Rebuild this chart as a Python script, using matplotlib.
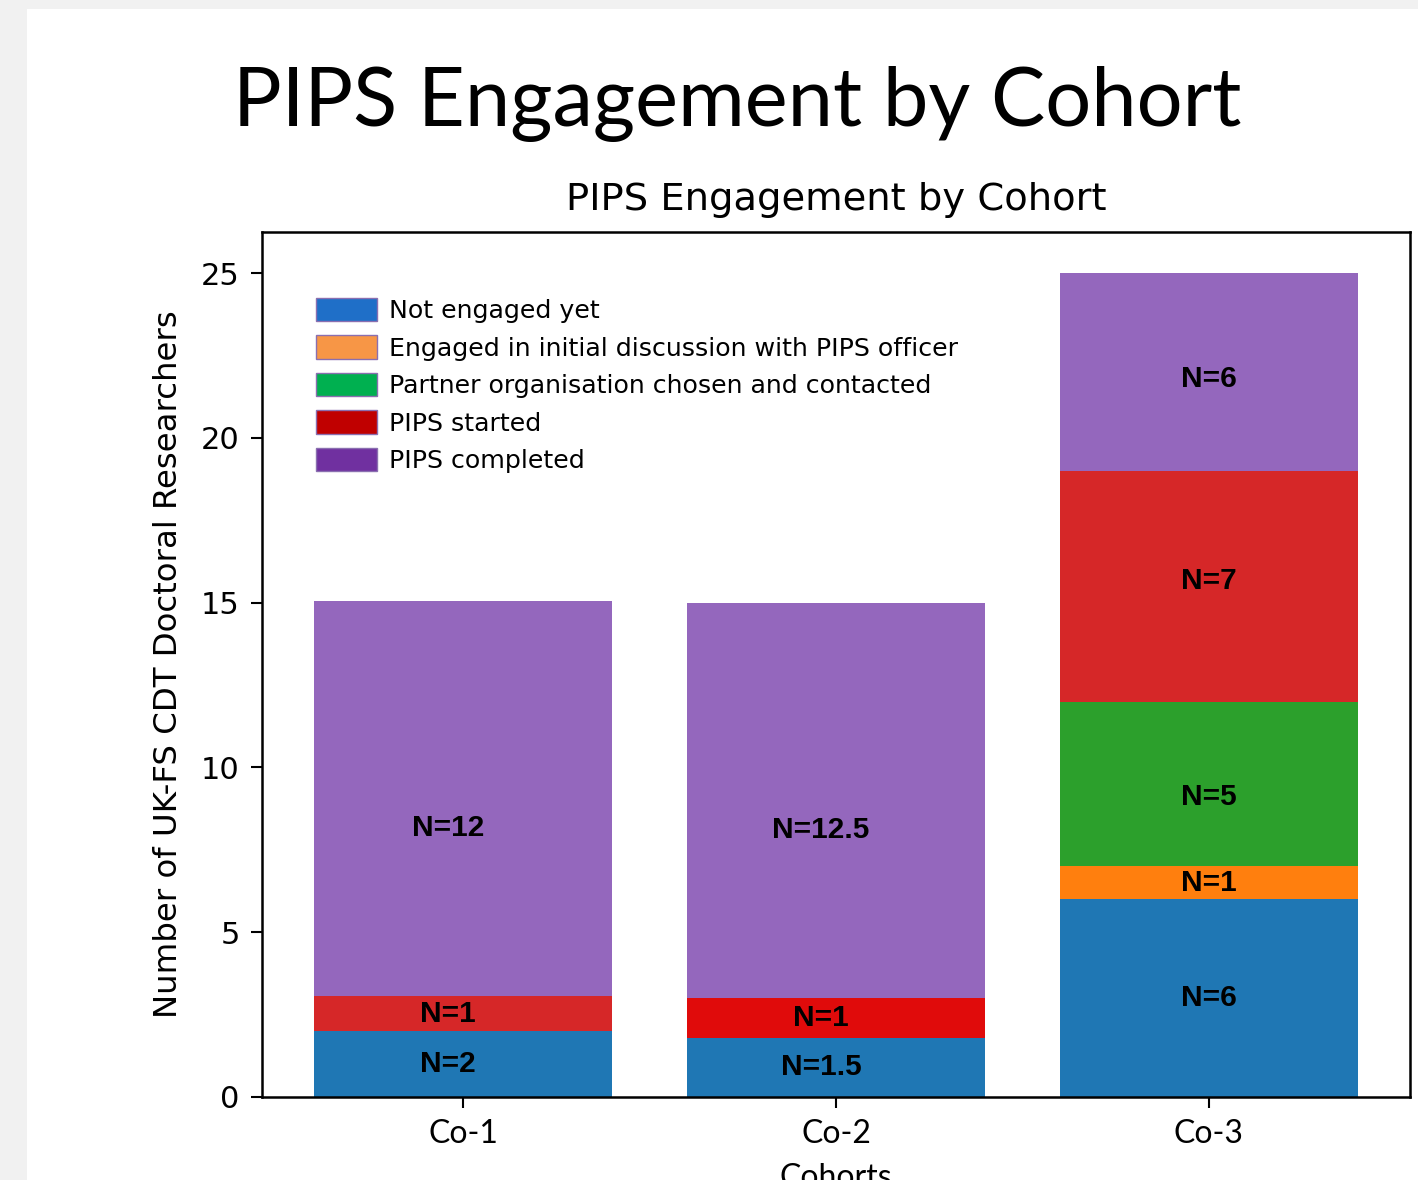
import matplotlib
matplotlib.use('Agg')
import matplotlib.pyplot as plt
from matplotlib.patches import Patch, Rectangle

# data
cohorts = ['Co-1', 'Co-2', 'Co-3']
stages = ['Not engaged yet', 'Engaged in initial discussion with PIPS officer',
          'Partner organisation chosen and contacted', 'PIPS started', 'PIPS completed']
not_engaged = [2, 1.8, 6]
initial_disc = [0, 0, 1]
partner = [0, 0, 5]
started = [1.05, 1.2, 7]
completed = [12, 12, 6]

# labels as written on the chart
labels_not_engaged = ['N=2', 'N=1.5', 'N=6']
labels_initial = ['', '', 'N=1']
labels_partner = ['', '', 'N=5']
labels_started = ['N=1', 'N=1', 'N=7']
labels_completed = ['N=12', 'N=12.5', 'N=6']

bar_colors = ['#1f77b4', '#ff7f0e', '#2ca02c', '#d62728', '#9467bd']
legend_colors = ['#1f6fc8', '#f79646', '#00b050', '#c00000', '#7030a0']

fig = plt.figure(figsize=(14.18, 11.8), dpi=100)
fig.patch.set_facecolor('#f1f1f1')
fig.patches.append(Rectangle((27 / 1418, 0), 1 - 27 / 1418, (1180 - 9) / 1180,
                             transform=fig.transFigure, facecolor='white', edgecolor='none', zorder=-5))

fig.text(0.520, 1 - 126 / 1180, 'PIPS Engagement by Cohort', family='Lato', fontsize=58.5,
         ha='center', va='baseline', color='black')

ax = fig.add_axes([262 / 1418, 83 / 1180, (1410 - 262) / 1418, (1097 - 232) / 1180])
ax.set_facecolor('white')

x = range(len(cohorts))
series = [not_engaged, initial_disc, partner, started, completed]
series_labels = [labels_not_engaged, labels_initial, labels_partner, labels_started, labels_completed]
bottom = [0, 0, 0]
for i, vals in enumerate(series):
    cols = [bar_colors[i]] * 3
    if i == 3:
        cols[1] = '#e00b0b'
    bars = ax.bar(x, vals, width=0.8, bottom=bottom, color=cols)
    for j, rect in enumerate(bars):
        txt = series_labels[i][j]
        if txt:
            yc = bottom[j] + vals[j] / 2.0
            if i == 4:
                yc -= 0.9 if j < 2 else 0.2
            if i == 2:
                yc -= 0.4
            if i == 3 and j == 2:
                yc += 0.15
            ax.text(rect.get_x() + rect.get_width() / 2.0 - (0.04 if j < 2 else 0.0), yc, txt,
                    ha='center', va='center', family='Liberation Sans', fontweight='bold',
                    fontsize=21.5, color='black')
    bottom = [b + v for b, v in zip(bottom, vals)]

ax.set_xlim(-0.54, 2.54)
ax.set_ylim(0, 26.25)
ax.set_yticks([0, 5, 10, 15, 20, 25])
ax.set_xticks(list(x))
ax.set_xticklabels(cohorts, family='Lato', fontsize=23)
ax.tick_params(axis='y', labelsize=22, length=8, width=1.5, pad=8)
ax.tick_params(axis='x', length=8, width=1.5, pad=8)
for s in ax.spines.values():
    s.set_linewidth(1.8)

ax.set_title('PIPS Engagement by Cohort', fontsize=27.7, pad=16)
ax.set_ylabel('Number of UK-FS CDT Doctoral Researchers', fontsize=23.3, labelpad=12)
ax.set_xlabel('Cohorts', family='Lato', fontsize=23, labelpad=10)

handles = [Patch(facecolor=c, edgecolor='#8a6fb0', linewidth=1) for c in legend_colors]
ax.legend(handles, stages, loc='upper left', frameon=False, fontsize=18.2,
          handlelength=2.42, handleheight=1.05, handletextpad=0.45, labelspacing=0.48,
          borderpad=0, borderaxespad=0, bbox_to_anchor=(0.047, 0.924))

plt.savefig('out.png', dpi=100, facecolor=fig.get_facecolor())
